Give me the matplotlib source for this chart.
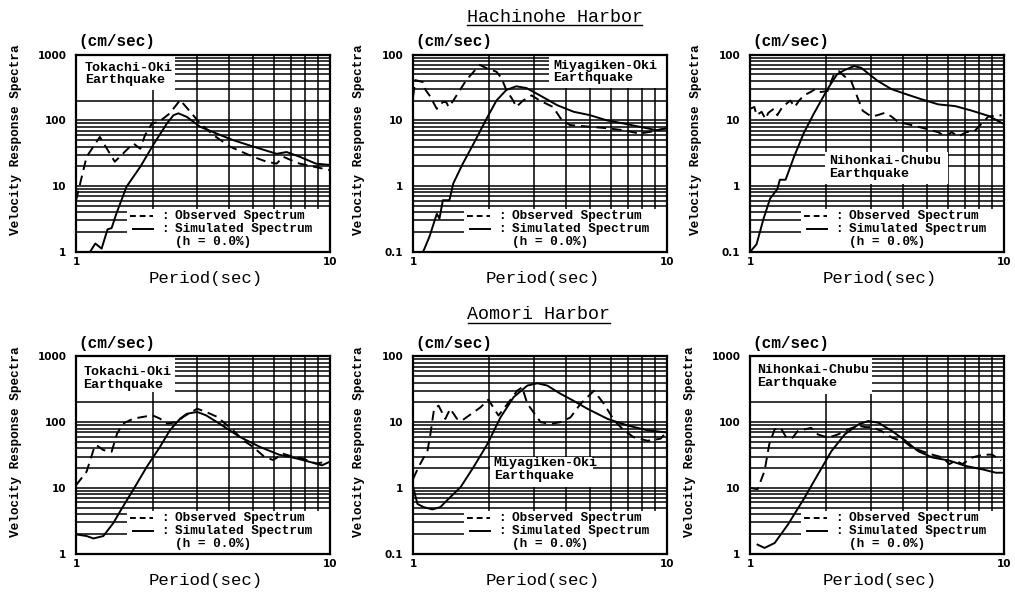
import matplotlib.pyplot as plt
from matplotlib.ticker import FixedLocator, LogLocator, NullFormatter
from matplotlib.patches import Rectangle
from matplotlib.lines import Line2D

# -----------------------------
# Data (period in sec, velocity in cm/sec)
# -----------------------------
# Hachinohe Harbor - Tokachi-Oki
h_tok_obs_T = [1.0, 1.1, 1.24, 1.42, 1.68, 1.79, 1.87, 1.99, 2.12, 2.34, 2.57, 2.85, 3.08, 3.47, 4.03, 4.98, 5.63, 6.17, 6.55, 7.0, 7.6, 10.0]
h_tok_obs_v = [6.1, 28, 56, 23.5, 44.7, 37, 60, 90, 95, 128, 204, 128, 90, 60, 40, 28, 23.5, 22, 28, 25, 22, 17.5]
h_tok_sim_T = [1.135, 1.19, 1.26, 1.33, 1.38, 1.44, 1.58, 1.79, 2.03, 2.28, 2.42, 2.53, 2.73, 3.08, 3.58, 4.16, 4.98, 6.17, 6.75, 7.6, 8.8, 10.0]
h_tok_sim_v = [1.0, 1.34, 1.12, 2.2, 2.3, 3.8, 9.8, 19.7, 44.7, 90, 120, 128, 113, 80, 63, 50, 40, 31, 33, 28, 22, 21]

# Hachinohe Harbor - Miyagiken-Oki
h_miy_obs_T = [1.0, 1.02, 1.1, 1.12, 1.16, 1.24, 1.31, 1.35, 1.38, 1.44, 1.62, 1.83, 1.95, 2.13, 2.23, 2.33, 2.48, 2.55, 2.71, 2.93, 3.16, 3.56, 3.86, 4.15, 4.98, 5.8, 6.73, 7.8, 8.6, 10.0]
h_miy_obs_v = [23, 41, 38, 29, 24, 15, 19, 19, 16, 20, 41, 70, 62, 55, 44, 29, 20, 16, 20, 24, 20, 16, 10, 8.5, 8, 7.6, 7.1, 6.3, 6.7, 7.6]
h_miy_sim_T = [1.095, 1.16, 1.24, 1.27, 1.31, 1.39, 1.44, 1.57, 1.73, 1.95, 2.13, 2.33, 2.55, 2.8, 3.16, 3.7, 4.3, 4.98, 5.8, 6.73, 7.8, 9.1, 10.0]
h_miy_sim_v = [0.1, 0.17, 0.38, 0.32, 0.61, 0.61, 1.1, 2.2, 4.4, 10.7, 20, 29, 33, 31, 24, 17, 13.5, 12, 10, 9, 8, 7.1, 7.6]

# Hachinohe Harbor - Nihonkai-Chubu
h_nih_obs_T = [1.0, 1.04, 1.06, 1.11, 1.15, 1.18, 1.24, 1.28, 1.34, 1.44, 1.5, 1.56, 1.63, 1.73, 1.81, 1.9, 2.02, 2.14, 2.24, 2.35, 2.5, 2.62, 2.78, 3.0, 3.18, 3.39, 3.6, 3.83, 4.32, 4.9, 5.52, 5.87, 6.23, 6.62, 7.1, 7.7, 8.7, 9.8]
h_nih_obs_v = [15, 16, 12, 13.5, 10.5, 13, 15, 12, 16, 20, 16, 20, 24, 27, 30, 27, 28, 50, 56, 47, 40, 25, 14, 11.5, 12, 13, 11.5, 9.5, 8.5, 7.5, 6.6, 5.7, 6.6, 5.7, 6.6, 7, 11.5, 12]
h_nih_sim_T = [1.0, 1.06, 1.13, 1.2, 1.28, 1.31, 1.38, 1.49, 1.63, 1.78, 2.02, 2.2, 2.35, 2.57, 2.74, 3.18, 3.6, 4.06, 4.73, 5.52, 6.43, 7.5, 8.7, 10.0]
h_nih_sim_v = [0.1, 0.13, 0.32, 0.65, 0.9, 1.25, 1.25, 2.8, 6.5, 12.5, 30, 50, 58, 67, 63, 40, 30, 25.5, 21, 17.5, 16.5, 14, 11.7, 8.8]

# Aomori Harbor - Tokachi-Oki
a_tok_obs_T = [1.0, 1.1, 1.17, 1.2, 1.28, 1.38, 1.45, 1.53, 1.68, 1.83, 2.0, 2.14, 2.28, 2.5, 2.64, 3.0, 3.25, 3.6, 4.16, 4.55, 4.98, 5.5, 5.97, 6.55, 7.1, 7.8, 8.8, 9.8]
a_tok_obs_v = [11, 17.7, 37.6, 45, 37.6, 35.5, 67, 95, 113, 120, 127, 113, 95, 100, 120, 160, 143, 120, 75, 53, 42, 30, 26.5, 33, 30, 28, 23.5, 25]
a_tok_sim_T = [1.0, 1.1, 1.17, 1.28, 1.4, 1.53, 1.68, 1.9, 2.14, 2.34, 2.57, 2.73, 3.0, 3.25, 3.67, 4.4, 5.3, 6.3, 7.4, 8.8, 9.3, 10.0]
a_tok_sim_v = [1.96, 1.85, 1.7, 1.85, 2.9, 5.2, 9.4, 21, 42, 75, 113, 134, 143, 127, 95, 60, 42, 32, 28, 23.5, 22, 25]

# Aomori Harbor - Miyagiken-Oki
a_miy_obs_T = [1.0, 1.05, 1.14, 1.17, 1.21, 1.26, 1.34, 1.4, 1.49, 1.56, 1.66, 1.84, 1.98, 2.17, 2.38, 2.57, 2.69, 2.82, 2.95, 3.18, 3.48, 3.81, 4.17, 4.57, 5.16, 5.65, 6.2, 6.77, 7.4, 8.4, 9.45, 9.8]
a_miy_obs_v = [1.37, 2.07, 3.7, 6.6, 16, 17.8, 11.2, 16, 11.2, 10.6, 12.6, 16.7, 22, 12.6, 20, 30, 34, 19, 15, 10, 9.4, 10, 11.8, 19, 30, 19, 10.6, 7.5, 5.9, 5.2, 5.6, 6.6]
a_miy_sim_T = [1.0, 1.04, 1.1, 1.19, 1.28, 1.4, 1.54, 1.73, 1.96, 2.21, 2.49, 2.82, 3.09, 3.38, 3.81, 4.3, 4.86, 5.84, 7.0, 8.4, 9.9]
a_miy_sim_v = [1.03, 0.57, 0.51, 0.47, 0.51, 0.72, 1.03, 2.07, 4.6, 11.8, 24, 36, 39, 36, 27, 21, 16, 11.2, 8.9, 7.5, 7.0]

# Aomori Harbor - Nihonkai-Chubu
a_nih_obs_T = [1.0, 1.07, 1.14, 1.19, 1.25, 1.32, 1.39, 1.47, 1.54, 1.74, 1.85, 2.03, 2.22, 2.44, 2.67, 2.84, 3.02, 3.3, 3.63, 4.1, 4.35, 4.77, 5.23, 5.74, 6.1, 6.47, 6.86, 7.52, 8.25, 9.0, 9.75]
a_nih_obs_v = [10, 9.5, 18, 46, 78, 82, 58, 58, 73, 82, 65, 58, 65, 78, 88, 84, 84, 73, 58, 49, 41, 36, 32, 29, 23, 26, 23, 29, 32, 32, 26]
a_nih_sim_T = [1.07, 1.14, 1.25, 1.41, 1.64, 1.85, 2.09, 2.36, 2.67, 2.92, 3.2, 3.63, 4.1, 4.6, 5.23, 6.1, 7.08, 8.25, 9.3, 10.0]
a_nih_sim_v = [1.37, 1.22, 1.45, 2.77, 7.1, 16, 36, 65, 92, 104, 98, 73, 52, 36, 29, 26, 21.5, 19.1, 17, 17]

quake_names = ["Tokachi-Oki\nEarthquake", "Miyagiken-Oki\nEarthquake", "Nihonkai-Chubu\nEarthquake"]
harbors = ["Hachinohe Harbor", "Aomori Harbor"]

MONO = "Liberation Mono"

fig = plt.figure(figsize=(10.15, 5.94), dpi=100)


def draw_panel(rect, obs_T, obs_v, sim_T, sim_v, ylo, label, box, text_xy):
    ax = fig.add_axes(rect)
    ax.set_xscale("log")
    ax.set_yscale("log")
    ax.set_xlim(1, 10)
    ax.set_ylim(ylo, ylo * 1000)

    # grid
    ax.xaxis.set_major_locator(FixedLocator([1, 10]))
    ax.xaxis.set_minor_locator(LogLocator(subs=range(2, 10)))
    ax.xaxis.set_minor_formatter(NullFormatter())
    ax.yaxis.set_minor_locator(LogLocator(subs=range(2, 10)))
    ax.yaxis.set_minor_formatter(NullFormatter())
    yt = [ylo, ylo * 10, ylo * 100, ylo * 1000]
    ax.yaxis.set_major_locator(FixedLocator(yt))
    ax.set_yticklabels(["%g" % v for v in yt])
    ax.set_xticklabels(["1", "10"])
    ax.set_axisbelow(True)
    ax.grid(which="both", color="black", lw=1.1)
    ax.tick_params(which="both", length=0)
    ax.tick_params(axis="y", pad=7, labelsize=7.5)
    ax.tick_params(axis="x", pad=4, labelsize=7.5)
    for t in ax.get_xticklabels() + ax.get_yticklabels():
        t.set_fontweight("bold")
    for s in ax.spines.values():
        s.set_linewidth(1.6)

    # white boxes for the earthquake label and the legend
    bx0, by0, bx1, by1 = box
    ax.add_patch(Rectangle((bx0, by0), bx1 - bx0, by1 - by0, transform=ax.transAxes,
                           facecolor="white", edgecolor="none", zorder=1.5))
    ax.add_patch(Rectangle((0.2, 0.0), 0.8, 0.215, transform=ax.transAxes,
                           facecolor="white", edgecolor="none", zorder=1.5))
    ax.text(text_xy[0], text_xy[1], label, transform=ax.transAxes, family=MONO,
            fontweight="bold", fontsize=9.6, va="top", ha="left", linespacing=1.1, zorder=4)

    # curves
    ax.plot(obs_T, obs_v, color="black", lw=1.4, ls=(0, (5, 3)), zorder=3)
    ax.plot(sim_T, sim_v, color="black", lw=1.4, zorder=3)

    # hand-made legend
    ax.add_line(Line2D([0.213, 0.304], [0.181, 0.181], transform=ax.transAxes,
                       color="black", lw=1.4, ls=(0, (3, 2)), zorder=4))
    ax.add_line(Line2D([0.225, 0.304], [0.114, 0.114], transform=ax.transAxes,
                       color="black", lw=1.4, zorder=4))
    kw = dict(transform=ax.transAxes, family=MONO, fontweight="bold", fontsize=9.2,
              va="center", ha="left", zorder=4)
    ax.text(0.335, 0.181, ":", **kw)
    ax.text(0.335, 0.114, ":", **kw)
    ax.text(0.39, 0.181, "Observed Spectrum", **kw)
    ax.text(0.39, 0.114, "Simulated Spectrum", **kw)
    ax.text(0.39, 0.05, "(h = 0.0%)", **kw)

    # axis captions
    ax.text(0.01, 1.065, "(cm/sec)", transform=ax.transAxes, family=MONO,
            fontweight="bold", fontsize=11.5, va="center", ha="left")
    ax.text(0.51, -0.135, "Period(sec)", transform=ax.transAxes, family=MONO,
            fontsize=12.5, va="center", ha="center")
    ax.text(-0.235 if ylo == 1 else -0.215, 0.57, "Velocity Response Spectra",
            transform=ax.transAxes, family=MONO, fontweight="bold", fontsize=9.2,
            rotation=90, va="center", ha="center")
    return ax


W, H = 0.25, 0.332
lefts = [0.075, 0.407, 0.739]
bottoms = [0.576, 0.068]

draw_panel([lefts[0], bottoms[0], W, H], h_tok_obs_T, h_tok_obs_v, h_tok_sim_T, h_tok_sim_v,
           1, quake_names[0], (0.0, 0.822, 0.39, 1.0), (0.035, 0.965))
draw_panel([lefts[1], bottoms[0], W, H], h_miy_obs_T, h_miy_obs_v, h_miy_sim_T, h_miy_sim_v,
           0.1, quake_names[1], (0.537, 0.83, 1.0, 1.0), (0.553, 0.975))
draw_panel([lefts[2], bottoms[0], W, H], h_nih_obs_T, h_nih_obs_v, h_nih_sim_T, h_nih_sim_v,
           0.1, quake_names[2], (0.294, 0.346, 0.78, 0.507), (0.311, 0.493))
draw_panel([lefts[0], bottoms[1], W, H], a_tok_obs_T, a_tok_obs_v, a_tok_sim_T, a_tok_sim_v,
           1, quake_names[0], (0.0, 0.819, 0.39, 1.0), (0.029, 0.952))
draw_panel([lefts[1], bottoms[1], W, H], a_miy_obs_T, a_miy_obs_v, a_miy_sim_T, a_miy_sim_v,
           0.1, quake_names[1], (0.303, 0.337, 0.71, 0.489), (0.318, 0.488))
draw_panel([lefts[2], bottoms[1], W, H], a_nih_obs_T, a_nih_obs_v, a_nih_sim_T, a_nih_sim_v,
           1, quake_names[2], (0.0, 0.81, 0.48, 1.0), (0.026, 0.96))

# harbor headings, underlined
for name, xc, yc, x0, x1, yu in [(harbors[0], 0.547, 0.971, 0.460, 0.633, 0.958),
                                  (harbors[1], 0.531, 0.470, 0.461, 0.601, 0.457)]:
    fig.text(xc, yc, name, family=MONO, fontsize=13.2, ha="center", va="center")
    fig.add_artist(Line2D([x0, x1], [yu, yu], color="black", lw=1.0))

plt.savefig("out.png", dpi=100)
